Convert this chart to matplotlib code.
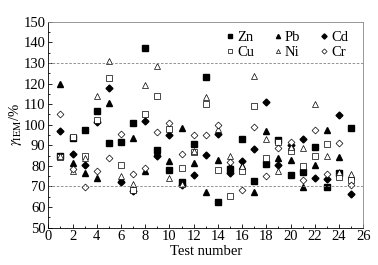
import numpy as np
import matplotlib.pyplot as plt

plt.rcParams['font.family'] = ['Liberation Serif', 'DejaVu Serif']
plt.rcParams['mathtext.fontset'] = 'stix'

tests = np.arange(1, 26)

# 回收率 (%) 读自原图
zn = [85, 93.5, 97.5, 106.5, 91, 91.5, 101, 137, 87.5, 78, 72, 90.5, 123, 62.5, 78.5, 93, 72.5, 81, 92.5, 75.5, 77, 89, 69.5, 76.5, 98.5]
pb = [120, 81.5, 76.5, 74, 110.5, 73.5, 93.5, 77.5, 86.5, 82.5, 98.5, 81.5, 67.5, 83, 80, 80, 67.5, 97, 84, 83, 69.5, 80.5, 97.5, 84.5, 75]
cd = [97, 86, 80.5, 101.5, 118, 72, 68, 102, 85, 95, 70.5, 75.5, 85.5, 95.5, 76.5, 82.5, 88, 111, 80.5, 90, 93, 74, 73.5, 104.5, 66.5]
cu = [84.5, 94, 85, 102.5, 122.5, 80.5, 68.5, 105, 114, 98, 79, 86.5, 110, 78, 65.5, 77.5, 109, 84, 91.5, 87, 80, 85, 90.5, 74.5, 73]
ni = [85, 77.5, 84, 114, 131, 75, 71, 119.5, 128.5, 74, 71, 87, 113.5, 98, 85, 80, 123.5, 93, 77.5, 89, 88.5, 110, 85, 77, 76]
cr = [105, 78.5, 69.5, 77.5, 84, 95.5, 76, 79, 96.5, 101, 86, 95, 95, 100, 82, 68.5, 99, 75, 88.5, 91.5, 73, 97.5, 76, 91, 70.5]

fig = plt.figure(figsize=(3.78, 2.65), dpi=100)
ax = fig.add_axes([0.128, 0.141, 0.833, 0.777])

ms = 4
h_zn, = ax.plot(tests, zn, 's', color='black', ms=ms, label='Zn')
h_pb, = ax.plot(tests, pb, '^', color='black', ms=ms, label='Pb')
h_cd, = ax.plot(tests, cd, 'D', color='black', ms=ms - 0.5, label='Cd')
h_cu, = ax.plot(tests, cu, 's', mfc='white', mec='black', mew=0.5, ms=ms, label='Cu')
h_ni, = ax.plot(tests, ni, '^', mfc='white', mec='black', mew=0.5, ms=ms, label='Ni')
h_cr, = ax.plot(tests, cr, 'D', mfc='white', mec='black', mew=0.5, ms=ms - 0.5, label='Cr')

ax.axhline(130, color='gray', ls='--', lw=0.6, dashes=(3, 2))
ax.axhline(70, color='gray', ls='--', lw=0.6, dashes=(3, 2))

ax.set_xlim(0, 26)
ax.set_ylim(50, 150)
ax.set_xticks(np.arange(0, 27, 2))
ax.set_xticks(np.arange(0, 27, 1), minor=True)
ax.set_yticks(np.arange(50, 151, 10))
ax.set_yticks(np.arange(50, 151, 5), minor=True)
ax.tick_params(direction='in', labelsize=10.5, length=3, width=0.6, top=False, right=False, pad=2)
ax.tick_params(which='minor', direction='in', length=1.5, width=0.6, top=False, right=False)
for s in ax.spines.values():
    s.set_linewidth(0.6)
    s.set_color('#888888')
ax.spines['left'].set_color('black')
ax.spines['bottom'].set_color('black')

ax.set_xlabel('Test number', fontsize=10.5, labelpad=1)
ax.set_ylabel(r'$\gamma_{\rm IEM}$/%', fontsize=10.5, labelpad=0)

# 按行排列图例: Zn Pb Cd / Cu Ni Cr
handles = [h_zn, h_cu, h_pb, h_ni, h_cd, h_cr]
ax.legend(handles, [h.get_label() for h in handles], ncol=3, loc='upper right',
          bbox_to_anchor=(0.98, 1.0), frameon=False, fontsize=10.5, handletextpad=0.1,
          columnspacing=1.2, labelspacing=0.15, borderaxespad=0.2, handlelength=0.8,
          markerscale=0.75)

fig.savefig('out.png', dpi=100)
